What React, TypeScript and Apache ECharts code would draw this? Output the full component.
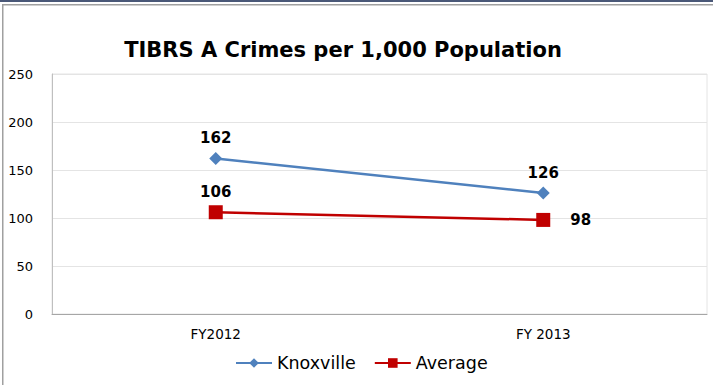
import React, { useEffect, useRef } from "react";
import * as echarts from "echarts";

const categories = ["FY2012", "FY 2013"];
const knoxville = [162, 126];
const average = [106, 98];
const yTicks = [0, 50, 100, 150, 200, 250];

export default function App() {
  const ref = useRef<HTMLDivElement>(null);
  useEffect(() => {
    if (!ref.current) return;
    const chart = echarts.init(ref.current, null, { renderer: "svg" });
    const font = "'DejaVu Sans', sans-serif";
    const labelStyle = {
      show: true,
      position: "top",
      fontFamily: font,
      fontSize: 15,
      fontWeight: "bold",
      color: "#000",
    };
    chart.setOption({
      animation: false,
      backgroundColor: "#ffffff",
      textStyle: { fontFamily: font },
      title: {
        text: "TIBRS A Crimes per 1,000 Population",
        left: 338,
        textAlign: "center",
        top: 34,
        textStyle: { fontFamily: font, fontSize: 21, fontWeight: "bold", color: "#000" },
      },
      legend: {
        bottom: 8,
        left: 230,
        itemGap: 18,
        itemWidth: 36,
        itemHeight: 12,
        textStyle: { fontFamily: font, fontSize: 17.5, color: "#000" },
        data: ["Knoxville", "Average"],
      },
      grid: { left: 52, right: 6, top: 74, bottom: 71, show: true, borderColor: "#e4e4e4", borderWidth: 1 },
      xAxis: {
        type: "category",
        data: categories,
        boundaryGap: true,
        axisLine: { lineStyle: { color: "#a6a6a6", width: 1 } },
        axisTick: { show: false },
        axisLabel: { fontFamily: font, fontSize: 13.5, color: "#000", margin: 13 },
      },
      yAxis: {
        type: "value",
        min: yTicks[0],
        max: yTicks[yTicks.length - 1],
        interval: 50,
        axisLine: { show: true, lineStyle: { color: "#bfbfbf" } },
        axisTick: { show: false },
        splitLine: { lineStyle: { color: "#e4e4e4" } },
        axisLabel: { fontFamily: font, fontSize: 13, color: "#000", margin: 19 },
      },
      series: [
        {
          name: "Knoxville",
          type: "line",
          data: knoxville,
          symbol: "diamond",
          symbolSize: 13,
          lineStyle: { color: "#4F81BD", width: 2.5 },
          itemStyle: { color: "#4F81BD" },
          label: { ...labelStyle, distance: 6 },
        },
        {
          name: "Average",
          type: "line",
          data: average.map((v, i) =>
            i === 1 ? { value: v, label: { position: "right", distance: 20 } } : v
          ),
          symbol: "rect",
          symbolSize: 14,
          lineStyle: { color: "#C00000", width: 2.5 },
          itemStyle: { color: "#C00000" },
          label: { ...labelStyle, distance: 6 },
        },
      ],
      graphic: [
        { type: "rect", shape: { x: 0, y: 0, width: 713, height: 2 }, style: { fill: "#4a5878" }, silent: true },
        { type: "rect", shape: { x: 2, y: 4, width: 711, height: 1.5 }, style: { fill: "#a0a0a0" }, silent: true },
        { type: "rect", shape: { x: 2, y: 4, width: 1.5, height: 381 }, style: { fill: "#a0a0a0" }, silent: true },
      ],
    });
    return () => chart.dispose();
  }, []);
  return (
    <div
      ref={ref}
      style={{ position: "fixed", left: 0, top: 0, width: 713, height: 385 }}
    />
  );
}
